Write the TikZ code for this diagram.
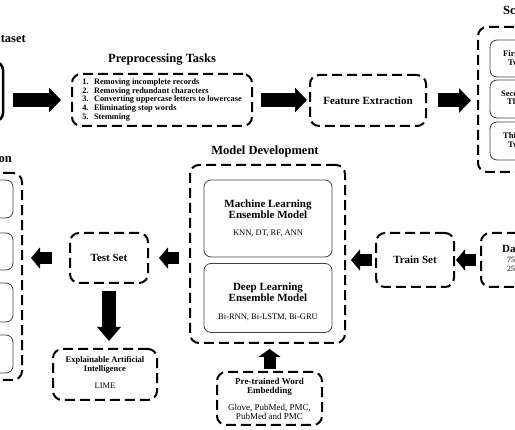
\documentclass[tikz,border=0pt]{standalone}
\usepackage{fontspec}
\setmainfont{Liberation Serif}
\usetikzlibrary{arrows.meta}
\begin{document}
\begin{tikzpicture}[x=1pt,y=-1pt,
  dbox/.style={draw, line width=2pt, dash pattern=on 10pt off 5pt, rounded corners=9pt, inner sep=0pt, align=center},
  sbox/.style={draw=black!75, line width=0.8pt, rounded corners=7pt, inner sep=0pt},
  heavybox/.style={draw, line width=2.5pt, rounded corners=8pt, inner sep=0pt},
  title/.style={font=\fontsize{12.5}{14}\selectfont\bfseries, inner sep=0pt},
  bigarrow/.style={line width=14pt, -{Triangle[length=12pt,width=24pt]}},
  midarrow/.style={line width=12pt, -{Triangle[length=9pt,width=21pt]}},
  downarrow/.style={line width=14pt, -{Triangle[length=14pt,width=23pt]}},
  smallarrow/.style={line width=12pt, -{Triangle[length=8pt,width=22pt]}},
  bf/.style={font=\fontsize{11}{12.3}\selectfont\bfseries},
  mtitle/.style={font=\fontsize{11}{11.5}\selectfont\bfseries, align=center, inner sep=0pt},
  mdetail/.style={font=\fontsize{8.5}{10}\selectfont, align=center, inner sep=0pt},
  stitle/.style={font=\fontsize{8.5}{8.5}\selectfont\bfseries, align=center, inner sep=0pt},
  sdetail/.style={font=\fontsize{9}{8.5}\selectfont, align=center, inner sep=0pt},
  cut/.style={inner sep=0pt, anchor=base west},
]
\useasboundingbox (0,0) rectangle (515,430);
\clip (0,0) rectangle (515,430);

% titles
\node[title, anchor=base east] (tds) at (26,43) {Dataset};
\node[title, anchor=base] (tpp) at (162,63) {Preprocessing Tasks};
\node[title, anchor=base west] (tsc) at (503,15) {Scenarios};
\node[title, anchor=base east] (tev) at (12,163) {Evaluation};
\node[title, anchor=base] (tmd) at (265,155) {Model Development};

% top row
\node[heavybox, minimum width=86pt, minimum height=59pt] (ds) at (-40,91.5) {};
\node[dbox, minimum width=180pt, minimum height=52pt] (pp) at (162,100) {%
  \fontsize{8.3}{8.7}\selectfont\bfseries
  \begin{tabular}{@{}l@{\hspace{5.5pt}}l@{}}
  1. & Removing incomplete records\\
  2. & Removing redundant characters\\
  3. & Converting uppercase letters to lowercase\\
  4. & Eliminating stop words\\
  5. & Stemming
  \end{tabular}};
\node[dbox, minimum width=116pt, minimum height=51pt, bf] (fe) at (368,100.5) {Feature Extraction};

% scenarios
\node[dbox, minimum width=150pt, minimum height=145pt] (sc) at (553,99.5) {};
\node[sbox, minimum width=120pt, minimum height=37pt] (sc1) at (550,58.5) {};
\node[sbox, minimum width=120pt, minimum height=38pt] (sc2) at (550,99) {};
\node[sbox, minimum width=120pt, minimum height=38pt] (sc3) at (550,141) {};
\node[cut, font=\fontsize{8.5}{10}\selectfont\bfseries] (sc1a) at (503,57) {First Scenario};
\node[cut, font=\fontsize{8.5}{10}\selectfont\bfseries] (sc1b) at (508,65.5) {Two Classes};
\node[cut, font=\fontsize{8.5}{10}\selectfont\bfseries] (sc2a) at (501,96.5) {Second Scenario};
\node[cut, font=\fontsize{8.5}{10}\selectfont\bfseries] (sc2b) at (507,105) {Three Classes};
\node[cut, font=\fontsize{8.5}{10}\selectfont\bfseries] (sc3a) at (503,139) {Third Scenario};
\node[cut, font=\fontsize{8.5}{10}\selectfont\bfseries] (sc3b) at (508,147.5) {Two Classes};

% evaluation
\node[dbox, minimum width=117pt, minimum height=207pt] (ev) at (-36.5,276.5) {};
\node[sbox, minimum width=93pt, minimum height=38pt] (ev1) at (-33.5,199) {};
\node[sbox, minimum width=93pt, minimum height=37pt] (ev2) at (-33.5,251.5) {};
\node[sbox, minimum width=93pt, minimum height=39pt] (ev3) at (-33.5,302.5) {};
\node[sbox, minimum width=93pt, minimum height=38pt] (ev4) at (-33.5,354) {};

% middle row
\node[dbox, minimum width=78pt, minimum height=50pt, bf] (ts) at (109,258) {Test Set};
\node[dbox, minimum width=155pt, minimum height=178pt] (md) at (267.5,254) {};
\node[sbox, minimum width=128pt, minimum height=77pt] (ml) at (268,218.5) {};
\node[mtitle] (mlt) at (268,209) {Machine Learning\\Ensemble Model};
\node[mdetail] (mlk) at (268,233) {KNN, DT, RF, ANN};
\node[sbox, minimum width=128pt, minimum height=69pt] (dl) at (268,298) {};
\node[mtitle] (dlt) at (268,292) {Deep Learning\\Ensemble Model};
\node[mdetail] (dlk) at (268,317) {Bi-RNN, Bi-LSTM, Bi-GRU};
\node[dbox, minimum width=78pt, minimum height=54pt, bf] (tr) at (415,260) {Train Set};
\node[dbox, minimum width=90pt, minimum height=54pt] (sp) at (526,260) {};
\node[cut, font=\fontsize{11}{12}\selectfont\bfseries] (spa) at (502,252.5) {Dataset Split};
\node[cut, font=\fontsize{8}{10}\selectfont] (spb) at (507,262.5) {75\% Training};
\node[cut, font=\fontsize{8}{10}\selectfont] (spc) at (507,272) {25\% Testing};

% bottom
\node[dbox, minimum width=104pt, minimum height=51pt] (xai) at (105,374.5) {};
\node[stitle] (xait) at (105,365) {Explainable Artificial\\Intelligence};
\node[mdetail] (xaid) at (105,386) {LIME};
\node[dbox, minimum width=105pt, minimum height=53pt] (pre) at (269.5,398.5) {};
\node[stitle, font=\fontsize{9}{8.8}\selectfont\bfseries] (pret) at (269.5,386.5) {Pre-trained Word\\Embedding};
\node[sdetail] (pred) at (269.5,412) {Glove, PubMed, PMC,\\PubMed and PMC};

% connectors
\draw[bigarrow, shorten <=9pt, shorten >=10pt] (ds.east |- pp.west) -- (pp.west);
\draw[bigarrow, shorten <=8pt, shorten >=2pt] (pp.east) -- (pp.east -| fe.west);
\draw[bigarrow, shorten <=11pt, shorten >=6pt] (fe.east) -- (fe.east -| sc.west);
\draw[midarrow, shorten <=4pt, shorten >=1pt] (tr.east -| sp.west) -- (tr.east);
\draw[midarrow, shorten <=3pt, shorten >=5pt] (tr.west) -- (tr.west -| md.east);
\draw[midarrow, shorten <=10pt, shorten >=10pt] (ts.east -| md.west) -- (ts.east);
\draw[midarrow, shorten <=17pt, shorten >=8pt] (ts.west) -- (ts.west -| ev.east);
\draw[downarrow, shorten <=7pt, shorten >=7pt] (ts.south) -- (ts.south |- xai.north);
\draw[smallarrow, shorten <=2pt, shorten >=5pt] (pre.north) -- (pre.north |- md.south);
\end{tikzpicture}
\end{document}
